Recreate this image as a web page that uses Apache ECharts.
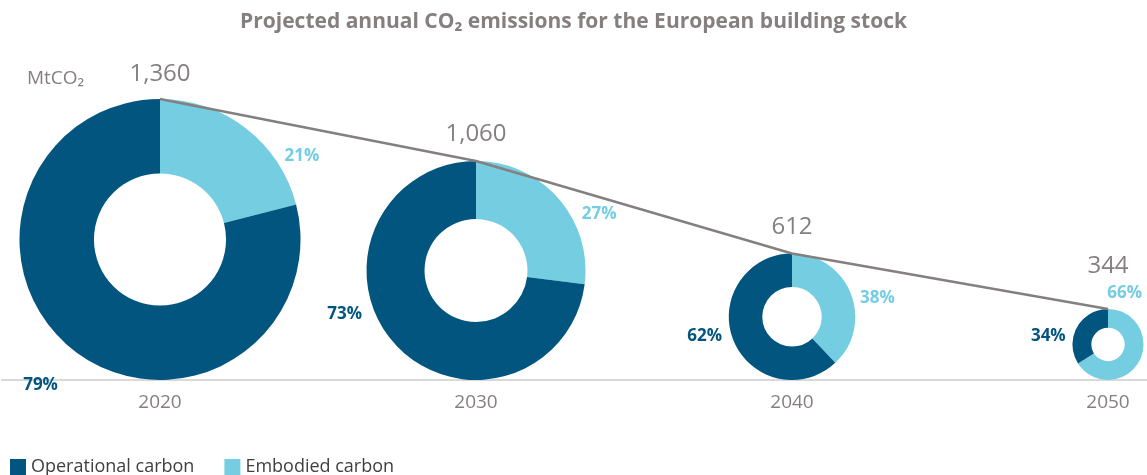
<!DOCTYPE html>
<html><head><meta charset="utf-8">
<script src="https://cdn.jsdelivr.net/npm/echarts@6/dist/echarts.min.js"></script>
<style>html,body{margin:0;padding:0;background:#fff}#c{width:1147px;height:475px}</style>
</head><body><div id="c"></div>
<script>
// ---- data ----
const years = ['2020', '2030', '2040', '2050'];
const totals = [1360, 1060, 612, 344];          // MtCO2
const operational = [79, 73, 62, 34];           // %
const embodied = [21, 27, 38, 66];              // %
const seriesNames = ['Operational carbon', 'Embodied carbon'];

// ---- styles ----
const DARK = '#02557f', LIGHT = '#74cde0', GREY = '#857f7f';
const FONT = '"Open Sans", sans-serif';
const HOLE = 0.47;
// percent-label placement, as multiples of each donut's radius: [embodied, operational]
const labelPlace = [
  [[1.01, -0.59], [-0.85, 1.04]],
  [[1.125, -0.51], [-1.2, 0.40]],
  [[1.35, -0.29], [-1.38, 0.30]],
  [[0.47, -1.43], [-1.68, -0.24]]
];
const valueLabelDist = [12, 14, 14, 30];

const chart = echarts.init(document.getElementById('c'), null, {renderer: 'canvas'});

const lineSeries = {
  type: 'line', name: 'total', z: 5,
  data: totals.map((v, i) => ({value: v, label: {distance: valueLabelDist[i]}})),
  symbol: 'circle', symbolSize: 1, showSymbol: true, silent: true,
  itemStyle: {color: '#858080'},
  lineStyle: {color: '#858080', width: 2.5},
  label: {show: true, position: 'top', fontSize: 24, color: GREY, fontFamily: FONT,
    formatter: p => Number(p.value).toLocaleString('en-US')}
};

chart.setOption({
  animation: false,
  textStyle: {fontFamily: FONT},
  title: {text: 'Projected annual CO₂ emissions for the European building stock', left: 'center', top: 7,
    textStyle: {fontSize: 21, fontWeight: 'bold', color: GREY, fontFamily: FONT}},
  graphic: [{type: 'text', left: 27, top: 69, style: {text: 'MtCO₂', fontSize: 19, fill: GREY, fontFamily: FONT}}],
  legend: {left: 5, top: 453, itemWidth: 16, itemHeight: 16, itemGap: 30, icon: 'rect',
    textStyle: {fontSize: 18, color: '#404040', fontFamily: FONT}, data: seriesNames},
  grid: {left: 2, width: 1264, top: 90.7, bottom: 95, containLabel: false, outerBoundsMode: 'none'},
  xAxis: {type: 'category', data: years, boundaryGap: true,
    axisLine: {lineStyle: {color: '#d9d9d9', width: 2}}, axisTick: {show: false},
    axisLabel: {fontSize: 19, color: GREY, margin: 13, fontFamily: FONT}},
  yAxis: {type: 'value', min: 0, max: 1400, show: false},
  series: [lineSeries]
});

const pieSeries = years.map((y, i) => {
  const top = chart.convertToPixel({gridIndex: 0}, [i, totals[i]]);
  const bot = chart.convertToPixel({gridIndex: 0}, [i, 0]);
  const r = (bot[1] - top[1]) / 2;
  const c = [top[0], top[1] + r];
  return {
    type: 'pie', name: y, z: 2, silent: true,
    center: c, radius: [r * HOLE, r],
    startAngle: 90, clockwise: true, avoidLabelOverlap: false,
    itemStyle: {borderWidth: 0},
    labelLine: {show: false},
    label: {show: true, position: 'outside', formatter: '{c}%', fontSize: 17, fontWeight: 'bold', fontFamily: FONT},
    labelLayout: params => {
      const p = labelPlace[i][params.dataIndex];
      return {x: c[0] + p[0] * r, y: c[1] + p[1] * r, align: 'center', verticalAlign: 'middle'};
    },
    data: [
      {name: seriesNames[1], value: embodied[i], itemStyle: {color: LIGHT}, label: {color: LIGHT}},
      {name: seriesNames[0], value: operational[i], itemStyle: {color: DARK}, label: {color: DARK}}
    ]
  };
});

chart.setOption({series: [lineSeries].concat(pieSeries)});
</script>
</body></html>
